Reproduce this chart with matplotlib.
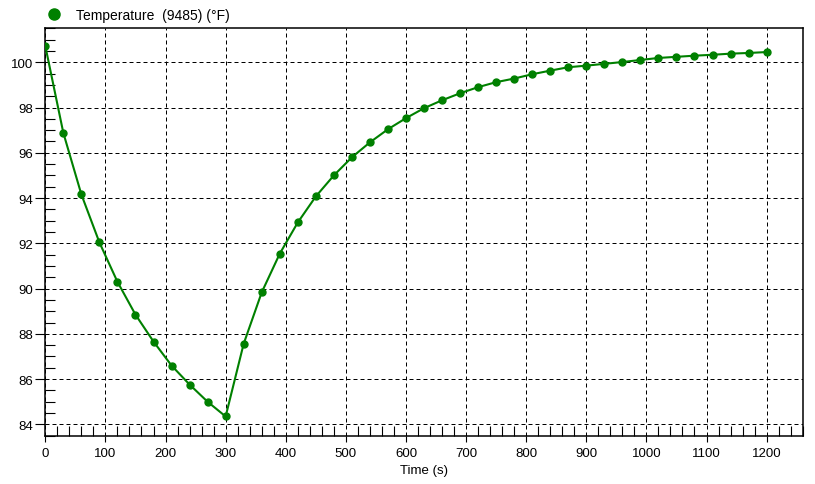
import numpy as np
import matplotlib.pyplot as plt
from matplotlib.lines import Line2D
from matplotlib.ticker import MultipleLocator

# time in seconds, one reading every 30 s
time_s = np.arange(0, 1201, 30)
temp_f = [100.72, 96.88, 94.16, 92.04, 90.30, 88.85, 87.66, 86.60, 85.76, 85.00,
          84.35, 87.56, 89.83, 91.54, 92.92, 94.07, 95.00, 95.80, 96.46, 97.04,
          97.53, 97.97, 98.32, 98.63, 98.90, 99.12, 99.28, 99.47, 99.63, 99.78,
          99.85, 99.93, 100.01, 100.10, 100.19, 100.24, 100.29, 100.33, 100.38,
          100.41, 100.45]
series_label = "Temperature  (9485) (°F)"
x_label = "Time (s)"

plt.rcParams['font.family'] = ['Liberation Sans', 'DejaVu Sans']
green = '#008000'

fig = plt.figure(figsize=(8.15, 4.85), dpi=100)
ax = fig.add_axes([45.3 / 815, 48.3 / 485, 757.4 / 815, 407.4 / 485])

ax.plot(time_s, temp_f, color=green, lw=1.5, marker='o', markersize=5, zorder=3)

ax.set_xlim(0, 1260)
ax.set_ylim(83.5, 101.5)
ax.xaxis.set_major_locator(MultipleLocator(100))
ax.xaxis.set_minor_locator(MultipleLocator(20))
ax.yaxis.set_major_locator(MultipleLocator(2))
ax.yaxis.set_minor_locator(MultipleLocator(0.5))
ax.set_xticks(np.arange(0, 1201, 100))

ax.tick_params(which='major', axis='x', direction='out', length=4, width=0.8, labelsize=9.5, pad=4)
ax.tick_params(which='minor', axis='x', direction='in', length=7.5, width=0.8)
ax.tick_params(which='major', axis='y', direction='out', length=7, width=0.8, labelsize=9.5, pad=2)
ax.tick_params(which='minor', axis='y', direction='in', length=7, width=0.8)

ax.grid(True, which='major', color='black', lw=0.72, linestyle=(0, (4, 3)))
for s in ax.spines.values():
    s.set_linewidth(1.1)

ax.set_xlabel(x_label, fontsize=9.5, labelpad=4)

handle = Line2D([], [], color=green, marker='o', linestyle='none', markersize=8)
fig.legend([handle], [series_label], loc='center left',
           bbox_to_anchor=(40 / 815, 1 - 16 / 485), frameon=False,
           fontsize=10, handletextpad=0.6, borderpad=0, borderaxespad=0)

fig.savefig('out.png', dpi=100)
